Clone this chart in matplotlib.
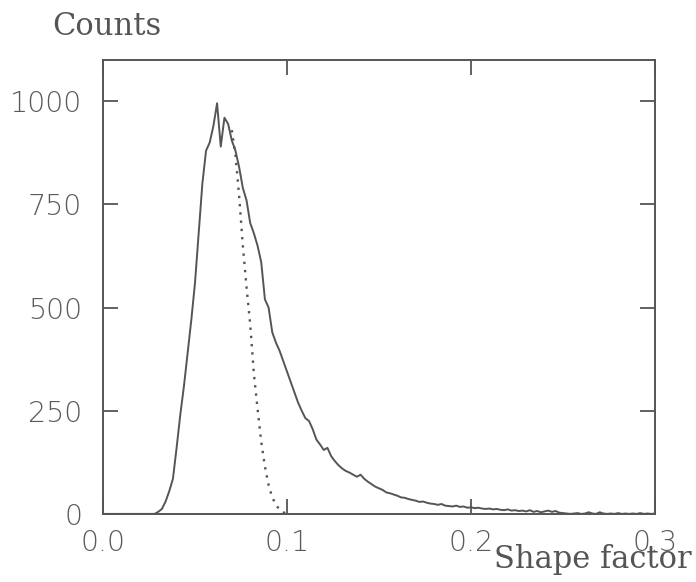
import numpy as np
import matplotlib.pyplot as plt

# histogram of shape factor, bin step 0.002
shape_x = np.round(np.arange(0, 0.3001, 0.002), 3)
counts = [
    0, 0, 0, 0, 0, 0, 0, 0, 0, 0, 0, 0, 0, 0, 0,          # 0.000-0.028
    5, 12, 30, 55, 85, 160, 240, 310, 390, 470,           # 0.030-0.048
    560, 680, 800, 880, 900, 940, 995, 890, 960, 945,     # 0.050-0.068
    905, 880, 840, 790, 760, 705, 680, 650, 610, 520,     # 0.070-0.088
    500, 440, 415, 395, 370, 345, 320, 295, 270, 250,     # 0.090-0.108
    232, 225, 205, 180, 168, 155, 160, 140, 128, 118,     # 0.110-0.128
    110, 104, 100, 95, 90, 95, 85, 78, 72, 66,            # 0.130-0.148
    62, 58, 52, 50, 47, 44, 40, 39, 36, 34,               # 0.150-0.168
    32, 29, 30, 27, 25, 24, 22, 24, 20, 19,               # 0.170-0.188
    18, 20, 17, 18, 15, 16, 14, 15, 13, 12,               # 0.190-0.208
    13, 11, 12, 10, 9, 11, 8, 9, 7, 8,                    # 0.210-0.228
    6, 9, 5, 7, 4, 6, 8, 5, 7, 3,                         # 0.230-0.248
    2, 1, 0, 1, 2, 0, 1, 4, 1, 0,                         # 0.250-0.268
    4, 1, 0, 1, 0, 2, 0, 1, 0, 1,                         # 0.270-0.288
    0, 2, 0, 1, 0, 1,                                     # 0.290-0.300
]

# fitted component (dotted), right flank only
fit_x = np.round(np.arange(0.070, 0.1001, 0.002), 3)
fit_counts = [930, 870, 770, 650, 550, 460, 340, 255, 175, 115,
              70, 40, 22, 10, 4, 0]

GRAY = '#555555'
TICK_FONT = dict(family='DejaVu Sans', size=20.5, weight='light', color='#5a5a5a')
LABEL_FONT = dict(family='DejaVu Serif', size=22, color='#555555')

fig = plt.figure(figsize=(6.96, 5.82), dpi=100)
ax = fig.add_axes([0.148, 0.117, 0.793, 0.780])

ax.plot(shape_x, counts, color=GRAY, lw=1.4)
ax.plot(fit_x, fit_counts, color=GRAY, lw=1.7, linestyle=(0, (1, 2.5)))

ax.set_xlim(0, 0.3)
ax.set_ylim(0, 1100)

ax.set_xticks([0.0, 0.1, 0.2, 0.3])
ax.set_xticklabels(['0.0', '0.1', '0.2', '0.3'], **TICK_FONT)
ax.set_yticks([0, 250, 500, 750, 1000])
ax.set_yticklabels(['0', '250', '500', '750', '1000'], **TICK_FONT)
ax.tick_params(direction='in', length=11, width=1.3, color=GRAY,
               top=True, right=True)
ax.tick_params(axis='x', pad=11)
ax.tick_params(axis='y', pad=15)

for sp in ax.spines.values():
    sp.set_color(GRAY)
    sp.set_linewidth(1.4)

fig.text(52 / 696, 1 - 35 / 582, 'Counts', ha='left', va='baseline', **LABEL_FONT)
fig.text(692 / 696, 1 - 568 / 582, 'Shape factor', ha='right', va='baseline', **LABEL_FONT)

fig.savefig('out.png', dpi=100)
